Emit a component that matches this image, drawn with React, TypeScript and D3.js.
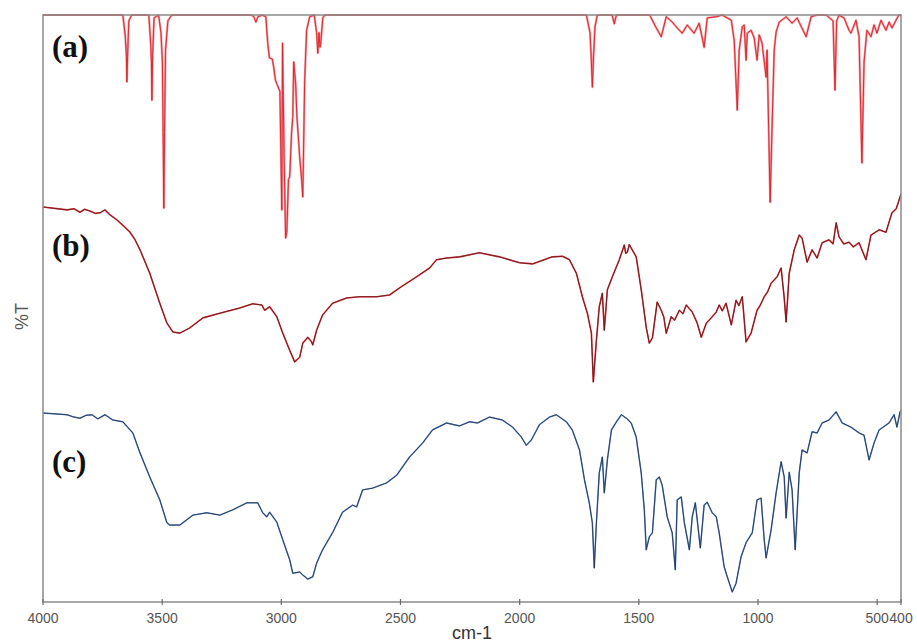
import React from "react";
import * as d3 from "d3";

// FT-IR spectra: wavenumber (cm-1) vs. transmittance (stacked, arbitrary %T offset)
type Pt = [number, number];

const xTicks: number[] = [4000, 3500, 3000, 2500, 2000, 1500, 1000, 500, 400];
const panelLabels: string[] = ["(a)", "(b)", "(c)"];
const panelLabelLevels: number[] = [92.8, 58.9, 22.2];

const spectrumA: Pt[] = [
  [4000, 100], [3665, 100], [3655, 96.5], [3650, 93], [3648, 88.6], [3645, 93], [3640, 99], [3628, 100],
  [3556, 100], [3548, 95], [3545, 92], [3543, 85.5], [3540, 93], [3534, 99.5], [3515, 100],
  [3505, 97], [3499, 92], [3496, 80], [3493, 67.1], [3490, 80], [3486, 94], [3476, 99], [3460, 100],
  [3125, 100], [3115, 99.7], [3107, 98.8], [3098, 99.7], [3080, 100], [3065, 99.7], [3057, 95.2],
  [3050, 92.7], [3038, 92.5], [3032, 91.1], [3025, 88.9], [3006, 87], [2998, 66.8], [2995, 95.2],
  [2988, 75], [2982, 62.0], [2977, 63], [2970, 72], [2965, 72.4], [2957, 80], [2952, 82.6],
  [2948, 92.0], [2940, 88.4], [2935, 83.0], [2923, 75.8], [2915, 72], [2910, 69.0], [2902, 88.9],
  [2894, 97.4], [2881, 99.7], [2862, 100], [2852, 97], [2847, 93.5], [2842, 97], [2838, 94.5],
  [2835, 95], [2826, 99.5], [2818, 100],
  [1720, 100], [1705, 97], [1700, 93], [1695, 87.7], [1690, 93], [1684, 98], [1674, 100],
  [1612, 100], [1603, 98.5], [1594, 100],
  [1455, 100], [1448, 99.5], [1427, 97.8], [1406, 96.3], [1385, 99.7], [1360, 98.8], [1339, 97.8],
  [1318, 96.9], [1297, 98.3], [1268, 96.9], [1247, 98.6], [1226, 94.5], [1213, 99.5], [1175, 99.7],
  [1150, 100], [1112, 99.1], [1100, 95.7], [1087, 83.8], [1079, 94.0], [1066, 98.0], [1058, 98.3],
  [1050, 92.3], [1045, 96.9], [1029, 97.4], [1016, 96.1], [1004, 92.3], [995, 96.6], [983, 95.2],
  [966, 89.4], [962, 94.0], [949, 68.1], [941, 80.9], [932, 94.0], [924, 97.1], [911, 98.8],
  [882, 99.7], [857, 98.6], [836, 99.5], [798, 96.3], [777, 99.7], [752, 100], [714, 100],
  [685, 99], [677, 87.2], [670, 99], [660, 100], [639, 99.5], [618, 97.4], [610, 96.9], [589, 99.1],
  [576, 96.3], [564, 74.8], [555, 92.0], [543, 97.4], [526, 96.3], [513, 98.3], [501, 96.9],
  [484, 99.1], [463, 97.4], [450, 98.8], [438, 97.8], [421, 99.1], [409, 100], [400, 100],
];

const spectrumB: Pt[] = [
  [4000, 67.3], [3899, 66.8], [3870, 67.0], [3845, 66.4], [3825, 66.9], [3803, 66.6], [3780, 66.2],
  [3761, 66.3], [3740, 66.8], [3720, 66.0], [3690, 65.1], [3660, 64.0], [3635, 63.0], [3615, 61.8],
  [3593, 60.0], [3552, 56.0], [3510, 50.9], [3480, 47.5], [3455, 46.0], [3426, 45.8], [3384, 46.7],
  [3329, 48.4], [3258, 49.2], [3174, 50.1], [3120, 50.8], [3082, 50.6], [3070, 49.7], [3049, 50.3],
  [3019, 48.6], [2994, 45.8], [2965, 42.9], [2944, 40.9], [2923, 41.7], [2910, 44.1], [2889, 45.1],
  [2873, 44.3], [2868, 43.8], [2852, 46.3], [2827, 48.9], [2785, 50.9], [2726, 51.8], [2672, 52.0],
  [2600, 52.0], [2546, 52.3], [2504, 53.5], [2433, 55.4], [2378, 56.9], [2349, 58.3], [2307, 58.6],
  [2252, 58.8], [2169, 59.5], [2085, 58.8], [2001, 57.8], [1946, 57.6], [1863, 58.8], [1820, 58.9],
  [1791, 58.3], [1762, 56.0], [1737, 52.0], [1716, 49.2], [1699, 45.8], [1691, 37.5], [1678, 44.6],
  [1666, 50.3], [1653, 52.6], [1645, 46.3], [1632, 53.2], [1611, 55.4], [1582, 58.3], [1561, 60.8],
  [1555, 59.4], [1548, 59.6], [1540, 60.9], [1532, 60.3], [1511, 58.8], [1490, 53.2], [1469, 46.8],
  [1456, 44.1], [1443, 45.0], [1423, 51.1], [1406, 49.7], [1395, 48.5], [1385, 45.8], [1364, 48.6],
  [1350, 48.0], [1330, 49.7], [1315, 49.1], [1301, 50.6], [1276, 49.4], [1255, 47.5], [1238, 45.1],
  [1217, 47.5], [1192, 48.6], [1175, 49.4], [1163, 50.6], [1150, 49.6], [1134, 50.9], [1112, 47.2],
  [1092, 51.4], [1080, 50.5], [1066, 52.0], [1050, 44.3], [1029, 45.8], [1004, 49.7], [990, 50.6],
  [974, 52.0], [960, 52.8], [945, 54.3], [920, 55.4], [903, 56.9], [890, 51.8], [882, 47.7],
  [869, 56.0], [848, 60.0], [827, 62.5], [815, 62.0], [794, 57.9], [773, 60.0], [752, 58.6],
  [731, 61.2], [702, 61.7], [685, 61.0], [672, 64.6], [660, 62.2], [640, 61.0], [618, 61.3],
  [600, 60.5], [576, 61.2], [547, 58.3], [526, 62.5], [492, 63.4], [463, 63.0], [438, 66.3],
  [420, 67.0], [408, 68.5], [400, 69.5],
];

const spectrumC: Pt[] = [
  [4000, 32.2], [3899, 31.9], [3870, 31.5], [3845, 31.3], [3820, 31.8], [3795, 31.9], [3770, 31.2],
  [3740, 31.9], [3707, 31.0], [3665, 30.7], [3623, 28.8], [3593, 25.4], [3552, 21.3], [3510, 17.4],
  [3480, 13.5], [3468, 13.1], [3426, 13.1], [3371, 14.8], [3313, 15.2], [3258, 14.8], [3204, 15.7],
  [3145, 16.9], [3099, 16.9], [3078, 15.2], [3061, 14.5], [3049, 15.3], [3019, 13.6], [2994, 10.6],
  [2965, 7.2], [2952, 4.9], [2923, 5.1], [2910, 4.6], [2889, 3.9], [2868, 4.3], [2852, 6.6],
  [2827, 8.9], [2785, 11.8], [2743, 15.3], [2701, 16.5], [2684, 16.2], [2659, 19.1], [2617, 19.4],
  [2558, 20.3], [2516, 21.6], [2462, 24.7], [2407, 27.1], [2366, 29.3], [2307, 30.5], [2252, 30.0],
  [2210, 30.7], [2177, 30.5], [2127, 31.5], [2072, 31.0], [2030, 29.8], [1993, 28.1], [1972, 26.7],
  [1951, 27.6], [1917, 30.2], [1875, 31.5], [1846, 31.9], [1804, 30.7], [1779, 29.3], [1749, 25.9],
  [1728, 20.8], [1708, 16.9], [1695, 13.5], [1687, 5.8], [1678, 13.5], [1666, 22.0], [1653, 24.7],
  [1645, 18.6], [1632, 24.2], [1615, 29.3], [1594, 30.7], [1573, 31.9], [1552, 31.3], [1532, 30.5],
  [1511, 28.1], [1490, 22.0], [1477, 15.7], [1469, 8.9], [1456, 11.1], [1443, 11.8], [1427, 20.8],
  [1414, 21.3], [1402, 19.9], [1381, 14.5], [1360, 11.8], [1347, 5.5], [1339, 17.4], [1322, 17.9],
  [1309, 13.5], [1288, 8.9], [1276, 14.5], [1263, 16.9], [1255, 14.0], [1242, 9.2], [1226, 16.5],
  [1213, 17.0], [1192, 15.2], [1175, 14.5], [1163, 11.8], [1142, 6.0], [1129, 4.3], [1108, 1.7],
  [1092, 3.2], [1071, 7.7], [1050, 10.1], [1024, 11.8], [1004, 17.4], [987, 17.7], [974, 10.6],
  [966, 7.5], [945, 12.3], [924, 18.6], [903, 23.9], [890, 21.3], [882, 14.3], [869, 22.1],
  [857, 19.1], [844, 8.9], [827, 22.0], [815, 25.9], [794, 25.4], [773, 29.0], [752, 28.8],
  [731, 30.5], [702, 31.0], [672, 32.4], [647, 30.5], [610, 29.8], [576, 28.8], [555, 28.4],
  [534, 24.2], [513, 27.1], [492, 29.3], [450, 30.5], [429, 31.9], [417, 29.8], [404, 32.4],
  [400, 32.6],
];

const WIDTH = 917;
const HEIGHT = 642;
const margin = { left: 43, right: 16, top: 15, bottom: 40 };

export default function App() {
  const x = d3
    .scaleLinear()
    .domain([4000, 400])
    .range([margin.left, WIDTH - margin.right]);
  const y = d3
    .scaleLinear()
    .domain([0, 100])
    .range([HEIGHT - margin.bottom, margin.top]);

  const line = d3
    .line<Pt>()
    .x((d) => x(d[0]))
    .y((d) => y(d[1]));

  const x0 = x(4000);
  const x1 = x(400);
  const yTop = y(100);
  const yBottom = y(0);

  const series = [
    { data: spectrumA, under: "#f4959a", over: "#d81e26", wu: 2.2, wo: 0.9 },
    { data: spectrumB, under: "#e5333a", over: "#521a1c", wu: 1.6, wo: 0.8 },
    { data: spectrumC, under: "#5a86c8", over: "#22304a", wu: 1.5, wo: 0.8 },
  ];

  return (
    <svg
      width={WIDTH}
      height={HEIGHT}
      style={{ position: "absolute", left: 0, top: 0, background: "#fff" }}
    >
      <defs>
        <clipPath id="plot-area">
          <rect x={x0} y={yTop - 1} width={x1 - x0} height={yBottom - yTop + 2} />
        </clipPath>
      </defs>

      <g clipPath="url(#plot-area)">
        {series.map((s, i) => (
          <g key={i} fill="none" strokeLinejoin="round">
            <path d={line(s.data) ?? ""} stroke={s.under} strokeWidth={s.wu} />
            <path d={line(s.data) ?? ""} stroke={s.over} strokeWidth={s.wo} />
          </g>
        ))}
      </g>

      {/* frame */}
      <rect
        x={x0}
        y={yTop}
        width={x1 - x0}
        height={yBottom - yTop}
        fill="none"
        stroke="#8a8a8a"
        strokeWidth={1.5}
      />

      {/* bottom axis ticks and labels */}
      <g fontFamily="Arial, 'Liberation Sans', sans-serif" fontSize={14} fill="#555">
        {xTicks.map((t) => (
          <g key={t} transform={`translate(${x(t)},0)`}>
            <line y1={yBottom - 3} y2={yBottom + 3} stroke="#6a6a6a" strokeWidth={1.2} />
            <text y={yBottom + 21} textAnchor="middle">
              {t}
            </text>
          </g>
        ))}
      </g>

      <text
        x={(x0 + x1) / 2}
        y={639}
        textAnchor="middle"
        fontFamily="Arial, 'Liberation Sans', sans-serif"
        fontSize={18}
        fill="#333"
      >
        cm-1
      </text>

      <text
        transform={`translate(28,${(yTop + yBottom) / 2 + 8}) rotate(-90)`}
        textAnchor="middle"
        fontFamily="Arial, 'Liberation Sans', sans-serif"
        fontSize={18}
        fill="#555"
      >
        %T
      </text>

      {panelLabels.map((lab, i) => (
        <text
          key={lab}
          x={52}
          y={y(panelLabelLevels[i])}
          fontFamily="'Liberation Serif', 'Times New Roman', serif"
          fontWeight="bold"
          fontSize={31}
          fill="#111"
        >
          {lab}
        </text>
      ))}
    </svg>
  );
}
